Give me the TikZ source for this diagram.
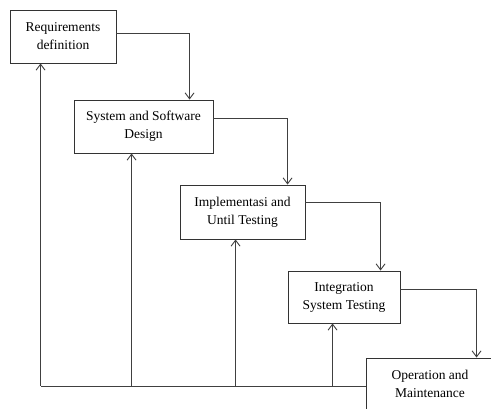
\documentclass[tikz,border=0pt]{standalone}
\usepackage{fontspec}
\setmainfont{Liberation Serif}
\usetikzlibrary{arrows.meta,calc}
\begin{document}
\begin{tikzpicture}[x=1pt,y=-1pt,
  box/.style={draw=black!80,line width=0.9pt,align=center,inner sep=0pt,
    font=\fontsize{13.5}{18}\selectfont,text=black},
  conn/.style={draw=black!75,line width=0.9pt},
  arr/.style={conn,-{Straight Barb[length=6pt,width=9pt,line width=0.9pt]}}]
\path[use as bounding box,fill=white] (0,0) rectangle (491,409);
\node[box,minimum width=106pt,minimum height=53pt] (b1) at (63,36.5) {Requirements\\definition};
\node[box,minimum width=139pt,minimum height=53pt] (b2) at (143.5,126.5) {System and Software\\Design};
\node[box,minimum width=125pt,minimum height=54pt] (b3) at (242.5,212) {Implementasi and\\Until Testing};
\node[box,minimum width=112pt,minimum height=52pt] (b4) at (344,297) {Integration\\System Testing};
\begin{scope}
\clip (0,0) rectangle (491,409);
\node[box,minimum width=128pt,minimum height=52pt] (b5) at (430,384) {Operation and\\Maintenance};
\end{scope}
% forward connectors
\draw[arr] ([yshift=3.5pt]b1.east) -| ($(b2.north west)+(116,0)$);
\draw[arr] ([yshift=8.5pt]b2.east) -| ($(b3.north west)+(108,0)$);
\draw[arr] ([yshift=10pt]b3.east) -| ($(b4.north west)+(93,0)$);
\draw[arr] ([yshift=8pt]b4.east) -| ($(b5.north west)+(111,0)$);
% feedback
\coordinate (bl) at (41,386);
\coordinate (t1) at ($(b1.south west)+(31,0)$);
\coordinate (t2) at ($(b2.south west)+(58,0)$);
\coordinate (t3) at ($(b3.south west)+(56,0)$);
\coordinate (t4) at ($(b4.south west)+(45,0)$);
\draw[conn] (bl) -- (b5.west |- bl);
\draw[arr] (t1 |- bl) -- (t1);
\draw[arr] (t2 |- bl) -- (t2);
\draw[arr] (t3 |- bl) -- (t3);
\draw[arr] (t4 |- bl) -- (t4);
\end{tikzpicture}
\end{document}
